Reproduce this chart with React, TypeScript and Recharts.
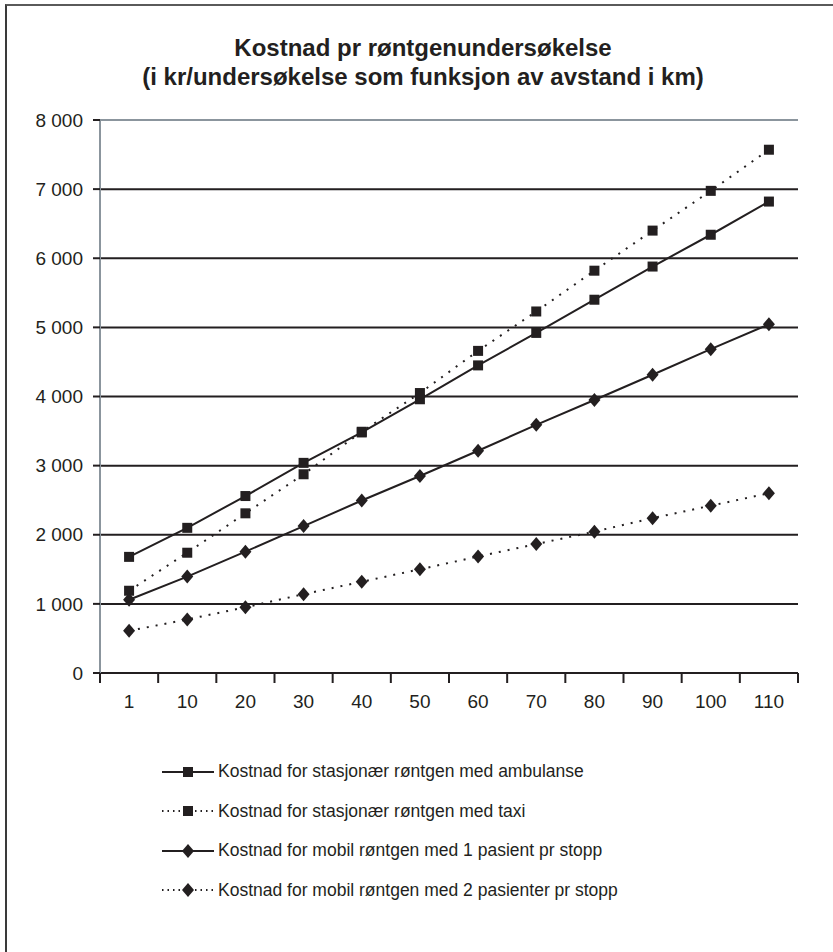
import React from 'react';
import { LineChart, Line, XAxis, YAxis, CartesianGrid, ReferenceLine, Legend } from 'recharts';

const distances = ['1', '10', '20', '30', '40', '50', '60', '70', '80', '90', '100', '110'];
const ambulanse = [1680, 2100, 2560, 3040, 3480, 3960, 4450, 4920, 5400, 5880, 6340, 6820];
const taxi = [1190, 1740, 2310, 2875, 3490, 4050, 4660, 5230, 5820, 6400, 6975, 7570];
const mobil1 = [1060, 1395, 1755, 2125, 2495, 2850, 3215, 3590, 3950, 4315, 4685, 5045];
const mobil2 = [610, 775, 950, 1140, 1320, 1500, 1685, 1865, 2045, 2240, 2420, 2600];
const yTicks = [0, 1000, 2000, 3000, 4000, 5000, 6000, 7000, 8000];

// the frame axis spans the row indexes 0..n-1, so the category borders sit at k*(n-1)/n
const lastIdx = distances.length - 1;
const frameTicks = [...distances.map((_, k) => (k * lastIdx) / distances.length), lastIdx];

const INK = '#231f20';
const FRAME = '#8b959d';
const DOTTED = '2 7';

const series = [
  { key: 'ambulanse', name: 'Kostnad for stasjonær røntgen med ambulanse', marker: 'square', dashed: false },
  { key: 'taxi', name: 'Kostnad for stasjonær røntgen med taxi', marker: 'square', dashed: true },
  { key: 'mobil1', name: 'Kostnad for mobil røntgen med 1 pasient pr stopp', marker: 'diamond', dashed: false },
  { key: 'mobil2', name: 'Kostnad for mobil røntgen med 2 pasienter pr stopp', marker: 'diamond', dashed: true },
];

const data = distances.map((d, i) => ({
  d,
  ambulanse: ambulanse[i],
  taxi: taxi[i],
  mobil1: mobil1[i],
  mobil2: mobil2[i],
}));

const Square = (props: any) => {
  const { cx, cy } = props;
  if (cx == null || cy == null) return null;
  return <rect x={cx - 5} y={cy - 5} width={10} height={10} fill={INK} />;
};

const Diamond = (props: any) => {
  const { cx, cy } = props;
  if (cx == null || cy == null) return null;
  return <polygon points={`${cx},${cy - 7} ${cx + 6},${cy} ${cx},${cy + 7} ${cx - 6},${cy}`} fill={INK} />;
};

const fmt = (v: number) => (v >= 1000 ? `${Math.floor(v / 1000)} ${String(v % 1000).padStart(3, '0')}` : `${v}`);

const renderLegend = () => (
  <div>
    {series.map((s) => (
      <div key={s.key} style={{ display: 'flex', alignItems: 'center', height: 39.5 }}>
        <svg width={52} height={16} style={{ marginRight: 4 }}>
          <line x1={0} y1={8} x2={52} y2={8} stroke={INK} strokeWidth={2} strokeDasharray={s.dashed ? '1.5 4' : undefined} />
          {s.marker === 'square' ? <Square cx={26} cy={8} /> : <Diamond cx={26} cy={8} />}
        </svg>
        <span style={{ fontSize: 17.5, color: INK }}>{s.name}</span>
      </div>
    ))}
  </div>
);

export default function App() {
  return (
    <div style={{ position: 'absolute', left: 0, top: 0, width: 833, height: 952, background: '#fff', fontFamily: 'Liberation Sans, Arial, sans-serif' }}>
      <div style={{ position: 'absolute', left: 5, top: 4, right: 0, bottom: 0, borderTop: '2px solid #5a5a5a', borderLeft: '2px solid #3a3a3a' }} />
      <div style={{ position: 'absolute', left: 0, width: 846, top: 33, textAlign: 'center', fontWeight: 'bold', fontSize: 24, lineHeight: '29px', color: INK }}>
        Kostnad pr røntgenundersøkelse
        <br />
        (i kr/undersøkelse som funksjon av avstand i km)
      </div>
      <div style={{ position: 'absolute', left: 0, top: 0 }}>
        <LineChart width={833} height={952} data={data} margin={{ top: 120, right: 35, left: 0, bottom: 219 }}>
          <CartesianGrid xAxisId="labels" vertical={false} stroke={INK} strokeWidth={2} />
          {/* frame axis: only draws the axis line and the tick marks between the categories */}
          <XAxis
            xAxisId={0}
            type="number"
            domain={[0, 12]}
            allowDataOverflow
            ticks={frameTicks}
            tickFormatter={() => ''}
            height={1}
            tickSize={10}
            axisLine={{ stroke: INK, strokeWidth: 2 }}
            tickLine={{ stroke: INK, strokeWidth: 2 }}
          />
          <XAxis
            xAxisId="labels"
            dataKey="d"
            scale="band"
            height={59}
            axisLine={false}
            tickLine={false}
            tickSize={9}
            tickMargin={12}
            interval={0}
            tick={{ fill: INK, fontSize: 19 }}
          />
          <YAxis
            domain={[0, 8000]}
            ticks={yTicks}
            width={100}
            tickSize={7}
            tickMargin={10}
            tickFormatter={fmt}
            axisLine={{ stroke: FRAME, strokeWidth: 2 }}
            tickLine={{ stroke: INK, strokeWidth: 2 }}
            tick={{ fill: INK, fontSize: 19 }}
          />
          <YAxis
            yAxisId="right"
            orientation="right"
            domain={[0, 8000]}
            width={0}
            tick={false}
            tickLine={false}
            axisLine={{ stroke: FRAME, strokeWidth: 2 }}
          />
          <ReferenceLine xAxisId="labels" y={8000} stroke={FRAME} strokeWidth={2} />
          {series.map((s) => (
            <Line
              key={s.key}
              xAxisId="labels"
              dataKey={s.key}
              name={s.name}
              stroke={INK}
              strokeWidth={2}
              strokeDasharray={s.dashed ? DOTTED : undefined}
              dot={s.marker === 'square' ? <Square /> : <Diamond />}
              activeDot={false}
              isAnimationActive={false}
            />
          ))}
          <Legend
            layout="vertical"
            align="center"
            verticalAlign="middle"
            content={renderLegend}
            wrapperStyle={{ top: 752, left: 162, width: 640 }}
          />
        </LineChart>
      </div>
    </div>
  );
}
